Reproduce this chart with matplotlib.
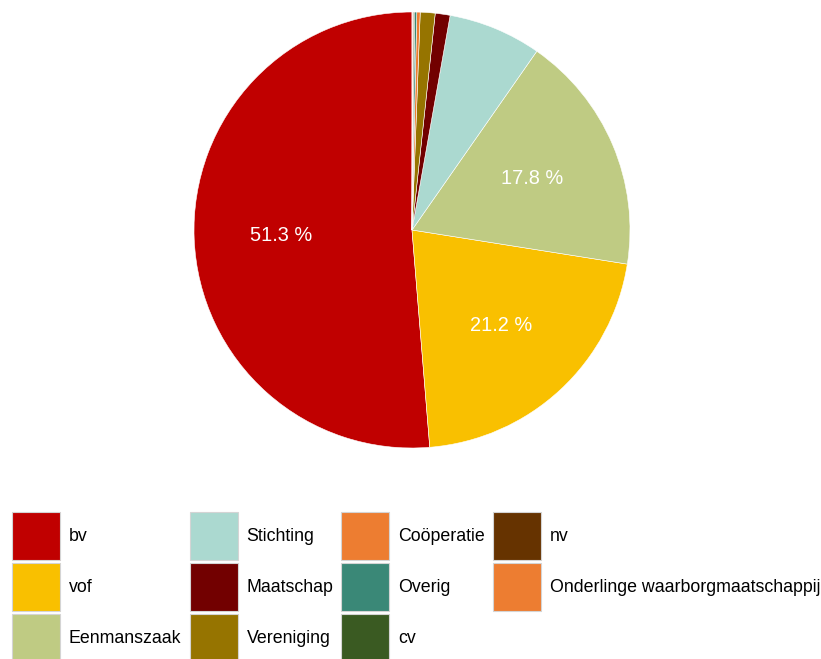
import matplotlib
matplotlib.use("Agg")
import matplotlib.pyplot as plt
from matplotlib.patches import Patch

plt.rcParams["font.family"] = ["Liberation Sans", "DejaVu Sans"]

# rechtsvormen, tegen de klok in vanaf 12 uur
labels = ["bv", "vof", "Eenmanszaak", "Stichting", "Maatschap", "Vereniging",
          "Coöperatie", "Overig", "cv", "nv", "Onderlinge waarborgmaatschappij"]
shares = [51.3, 21.2, 17.8, 6.9, 1.1, 1.1, 0.25, 0.15, 0.1, 0.06, 0.04]
colors = ["#C00000", "#F9C000", "#BFCB83", "#ABD9D0", "#720000", "#967400",
          "#ED7D31", "#3A8877", "#3A5A22", "#663300", "#ED7D31"]

W, H = 821, 659
fig = plt.figure(figsize=(W / 100, H / 100), dpi=100)

cx, cy, r = 412, 230, 218
ax = fig.add_axes([(cx - r) / W, (H - cy - r) / H, 2 * r / W, 2 * r / H])


def fmt(pct):
    return f"{pct:.1f} %" if pct >= 10 else ""


ax.pie(shares, colors=colors, startangle=90, counterclock=True,
       autopct=fmt, pctdistance=0.6,
       wedgeprops=dict(edgecolor="white", linewidth=0.4),
       textprops=dict(color="white", fontsize=14.4))
ax.set_xlim(-1, 1)
ax.set_ylim(-1, 1)
ax.set_aspect("equal")
ax.axis("off")

fs = 17.8  # legend font in px
box = 48   # legend square in px
hh = (box / fs - 0.245) / 0.65
handles = [Patch(facecolor=c, edgecolor="#d4d4d4", linewidth=0.8) for c in colors]
fig.legend(handles, labels, ncol=4, loc="upper left",
           bbox_to_anchor=(12 / W, 1 - 512 / H), frameon=False,
           fontsize=fs * 72 / 100, borderpad=0, borderaxespad=0,
           handlelength=box / fs, handleheight=hh,
           handletextpad=9 / fs, columnspacing=8 / fs, labelspacing=3 / fs)

fig.savefig("out.png", dpi=100)
